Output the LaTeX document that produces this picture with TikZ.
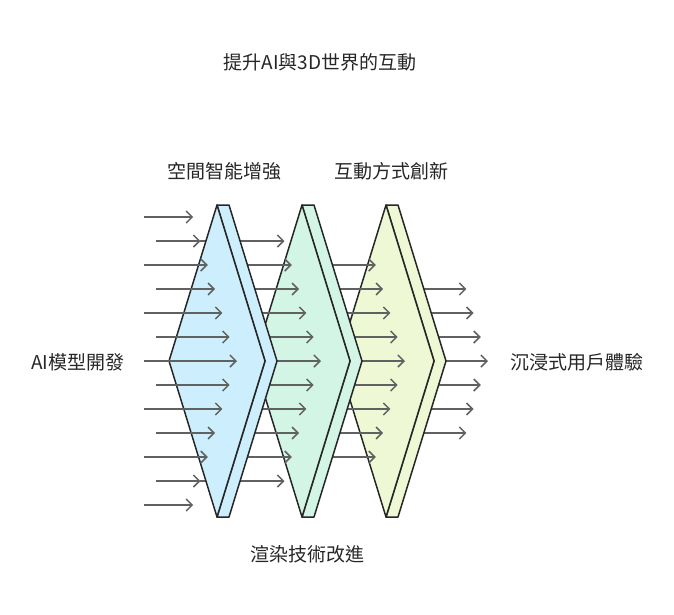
\documentclass[tikz,border=0pt]{standalone}
\usepackage{fontspec}
\setmainfont{Noto Sans CJK TC}
\begin{document}
\begin{tikzpicture}[x=1pt,y=-1pt,
  arr/.style={draw=black!62,line width=1.5pt,-{Straight Barb[length=6pt,width=12pt]}},
  panel/.style={draw=black!85,line width=1.5pt,line join=round},
  lbl/.style={font=\fontsize{19}{22}\selectfont,text=black!85}]
\usetikzlibrary{arrows.meta}
\useasboundingbox (0,0) rectangle (674,614);
\definecolor{pA}{HTML}{CDEFFD}
\definecolor{pB}{HTML}{D3F5E6}
\definecolor{pC}{HTML}{EEF8D4}
\foreach \i in {3,...,9}{
  \pgfmathsetmacro\yy{217+24*\i}
  \pgfmathsetmacro\xe{488-7.2*abs(\i-6)}
  \coordinate (rs\i) at (370,\yy); \coordinate (re\i) at (\xe,\yy);
  \draw[arr] (rs\i) -- (re\i);}
\begin{scope}[xshift=169]
\draw[panel,fill=pC] (217,205) -- (229,205) -- (277,361) -- (229,517) -- (217,517) -- (265,361) -- cycle;
\draw[panel,fill=pC] (217,205) -- (265,361) -- (217,517) -- (169,361) -- cycle;
\end{scope}
\foreach \i in {2,...,10}{
  \pgfmathsetmacro\yy{217+24*\i}
  \pgfmathsetmacro\xe{405-7.3*abs(\i-6)}
  \coordinate (cs\i) at (285,\yy); \coordinate (ce\i) at (\xe,\yy);
  \draw[arr] (cs\i) -- (ce\i);}
\begin{scope}[xshift=85]
\draw[panel,fill=pB] (217,205) -- (229,205) -- (277,361) -- (229,517) -- (217,517) -- (265,361) -- cycle;
\draw[panel,fill=pB] (217,205) -- (265,361) -- (217,517) -- (169,361) -- cycle;
\end{scope}
\foreach \i in {1,...,11}{
  \pgfmathsetmacro\yy{217+24*\i}
  \pgfmathsetmacro\xe{321-7.3*abs(\i-6)}
  \coordinate (bs\i) at (200,\yy); \coordinate (be\i) at (\xe,\yy);
  \draw[arr] (bs\i) -- (be\i);}
\draw[panel,fill=pA] (217,205) -- (229,205) -- (277,361) -- (229,517) -- (217,517) -- (265,361) -- cycle;
\draw[panel,fill=pA] (217,205) -- (265,361) -- (217,517) -- (169,361) -- cycle;
\foreach \i in {0,...,12}{
  \pgfmathsetmacro\yy{217+24*\i}
  \pgfmathsetmacro\xe{237-7.3*abs(\i-6)}
  \pgfmathsetmacro\xs{ifthenelse(mod(\i,2)==0,144,156)}
  \coordinate (as\i) at (\xs,\yy); \coordinate (ae\i) at (\xe,\yy);
  \draw[arr] (as\i) -- (ae\i);}
\node[lbl] (title) at (320,62) {提升AI與3D世界的互動};
\node[lbl] (l1) at (224,171) {空間智能增強};
\node[lbl] (l2) at (391,171) {互動方式創新};
\node[lbl] (l3) at (307,554) {渲染技術改進};
\node[lbl] (in) at (78,362) {AI模型開發};
\node[lbl] (out) at (577,362) {沉浸式用戶體驗};
\end{tikzpicture}
\end{document}
